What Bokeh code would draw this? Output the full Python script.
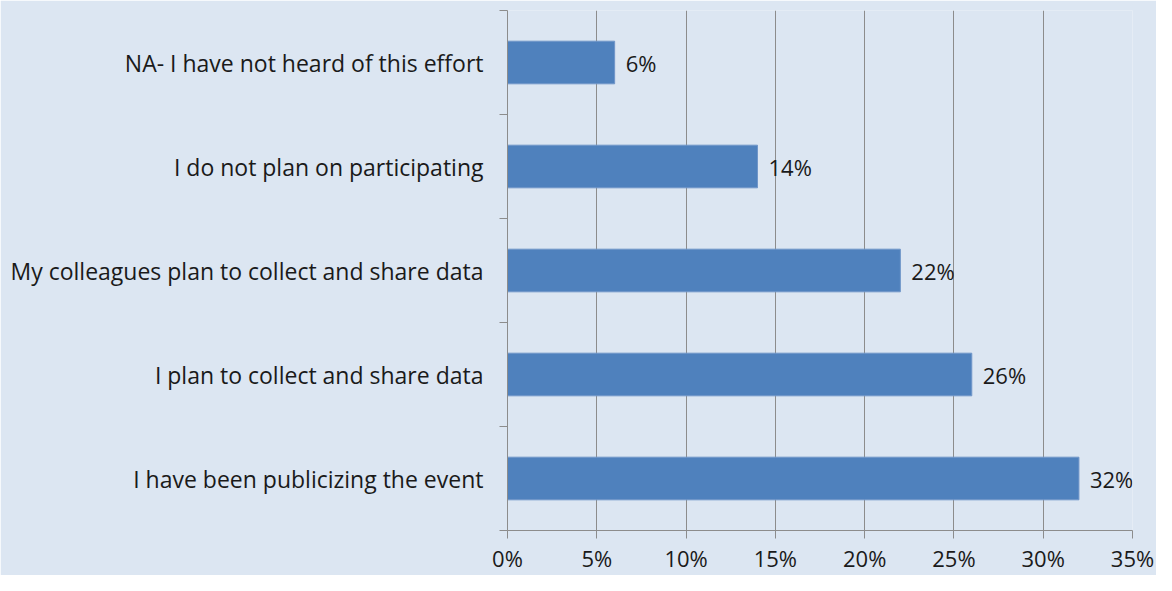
from bokeh.plotting import figure
from bokeh.models import ColumnDataSource, FixedTicker, Range1d, NumeralTickFormatter
from bokeh.core.properties import value
from bokeh.embed import file_html
from bokeh.resources import INLINE

categories = [
    "I have been publicizing the event",
    "I plan to collect and share data",
    "My colleagues plan to collect and share data",
    "I do not plan on participating",
    "NA- I have not heard of this effort",
]
values = [0.32, 0.26, 0.22, 0.14, 0.06]
labels = ["32%", "26%", "22%", "14%", "6%"]
x_ticks = [0, 0.05, 0.10, 0.15, 0.20, 0.25, 0.30, 0.35]

BG = "#DCE6F2"
FONT = "Open Sans"
TXT = "#1A1A1A"
GRID = "#8C8C8C"

pos = [i + 0.5 for i in range(len(categories))]
src = ColumnDataSource(dict(y=pos, v=values, lab=labels))

p = figure(width=1156, height=575, output_backend="svg", toolbar_location=None,
           x_range=Range1d(0, 0.35), y_range=Range1d(0, len(categories)))
p.background_fill_color = BG
p.border_fill_color = BG
p.outline_line_color = None
p.min_border_left = 507
p.min_border_right = 24
p.min_border_top = 10
p.min_border_bottom = 42

p.hbar(y="y", right="v", left=0, height=0.41, source=src,
       fill_color="#4F81BD", line_color="#7096C9", line_width=1)
p.text(x="v", y="y", text="lab", source=src, x_offset=11,
       text_baseline="middle", text_align="left",
       text_font=value(FONT), text_font_size="22px", text_color=TXT)

# x axis
p.xaxis.ticker = FixedTicker(ticks=x_ticks)
p.xaxis.formatter = NumeralTickFormatter(format="0%")
p.xaxis.axis_line_color = GRID
p.xaxis.major_tick_line_color = GRID
p.xaxis.major_tick_out = 8
p.xaxis.major_tick_in = 0
p.xaxis.minor_tick_line_color = None
p.xaxis.major_label_text_font = FONT
p.xaxis.major_label_text_font_size = "22px"
p.xaxis.major_label_text_color = TXT
p.xaxis.major_label_standoff = 4

# y axis
p.yaxis.ticker = FixedTicker(ticks=pos, minor_ticks=list(range(len(categories) + 1)))
p.yaxis.major_label_overrides = {pos[i]: categories[i] for i in range(len(categories))}
p.yaxis.axis_line_color = GRID
p.yaxis.major_tick_line_color = None
p.yaxis.major_tick_out = 0
p.yaxis.major_tick_in = 0
p.yaxis.minor_tick_line_color = GRID
p.yaxis.minor_tick_out = 8
p.yaxis.minor_tick_in = 0
p.yaxis.major_label_text_font = FONT
p.yaxis.major_label_text_font_size = "23px"
p.yaxis.major_label_text_color = TXT
p.yaxis.major_label_standoff = 16

p.xgrid.ticker = FixedTicker(ticks=x_ticks[1:])
p.xgrid.grid_line_color = GRID
p.xgrid.grid_line_width = 1
p.ygrid.grid_line_color = None

html = file_html(p, INLINE)
html = html.replace("<body>", '<body style="background:%s">' % BG, 1)
open("out.html", "w").write(html)
